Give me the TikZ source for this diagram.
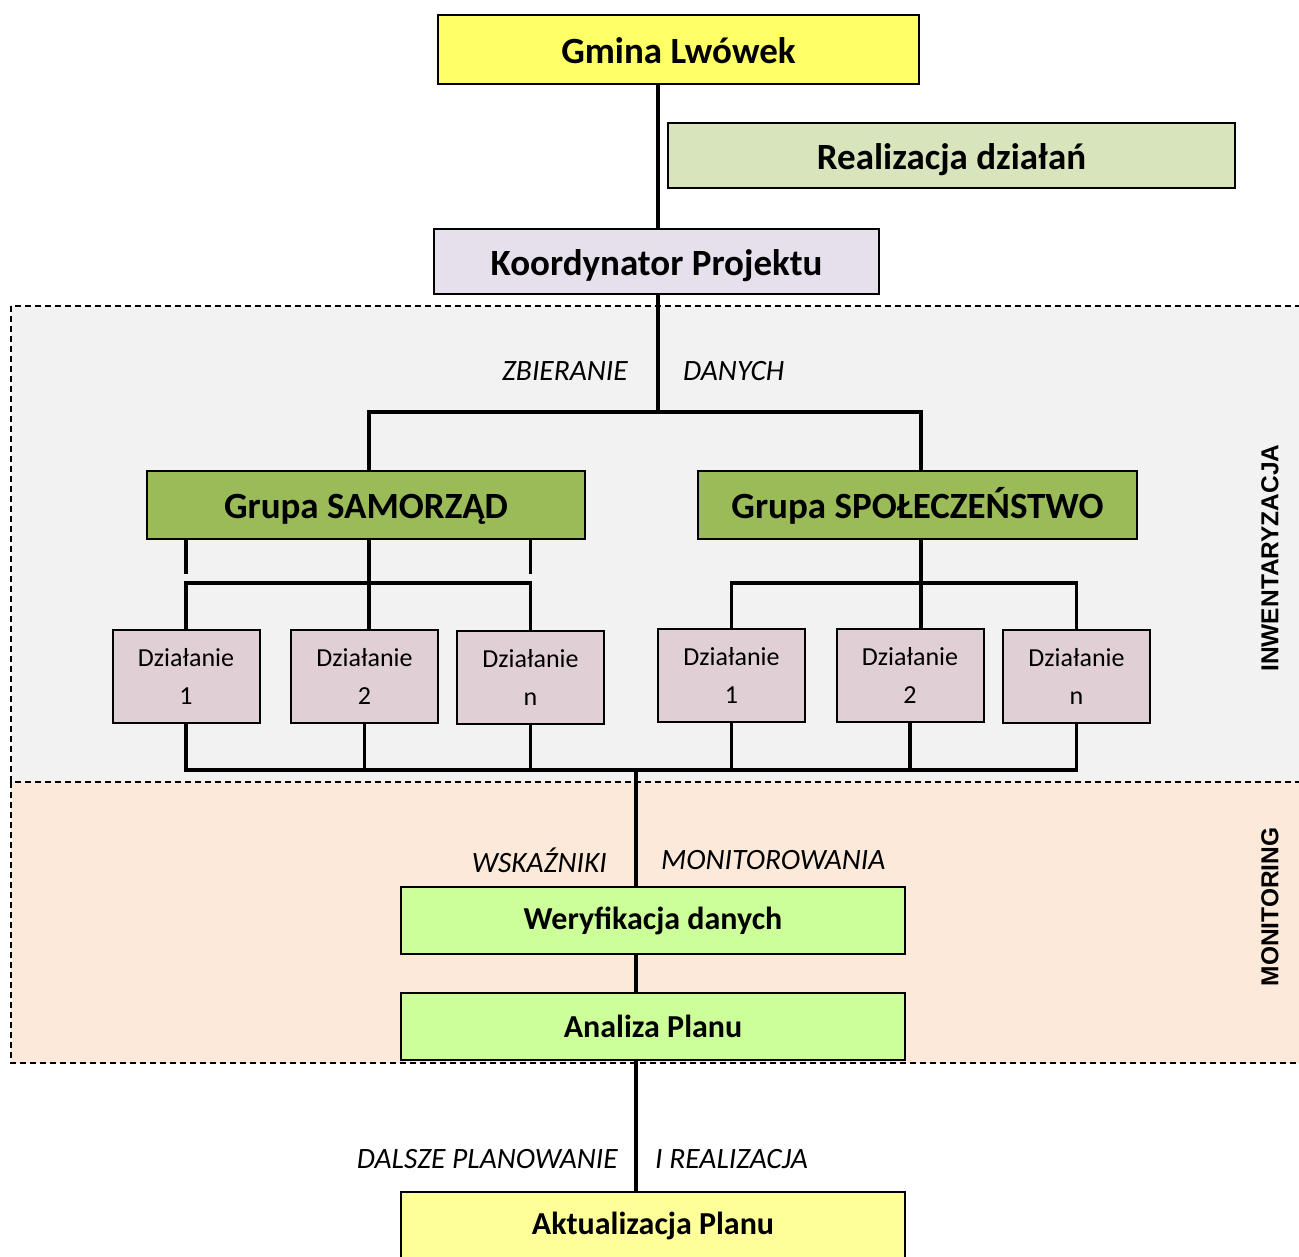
\documentclass[tikz,border=0pt]{standalone}
\usepackage{fontspec}
\setmainfont{Carlito}
\newfontfamily\sidefont{Liberation Sans}
\definecolor{gmyellow}{RGB}{255,255,102}
\definecolor{gmlightyellow}{RGB}{255,255,153}
\definecolor{gmsage}{RGB}{216,228,188}
\definecolor{gmlavender}{RGB}{229,224,236}
\definecolor{gmolive}{RGB}{155,187,89}
\definecolor{gmmauve}{RGB}{224,208,214}
\definecolor{gmlime}{RGB}{204,255,153}
\definecolor{gmgray}{RGB}{242,242,242}
\definecolor{gmpeach}{RGB}{253,233,217}
\usetikzlibrary{positioning,calc}
\tikzset{
  bigbox/.style={draw=black, line width=2pt, minimum height=67pt, align=center, text height=27.5pt, text depth=0pt, font=\fontsize{37}{44}\selectfont\bfseries},
  midbox/.style={draw=black, line width=2pt, minimum width=504pt, minimum height=67pt, align=center, font=\fontsize{32}{38}\selectfont\bfseries},
  actbox/.style={draw=black, line width=2pt, fill=gmmauve, minimum width=147pt, minimum height=93pt, align=center, font=\fontsize{26}{38}\selectfont},
  flowlbl/.style={font=\fontsize{29.5}{34}\selectfont\itshape, inner sep=0pt},
  sidelbl/.style={font=\fontsize{24.5}{30}\sidefont\bfseries, rotate=90, inner sep=0pt},
  conn/.style={line width=3.2pt},
  zone/.style={line width=1.2pt, dash pattern=on 6pt off 4pt}
}
\begin{document}
\begin{tikzpicture}[x=1pt,y=-1pt]
  \useasboundingbox (0,0) rectangle (1299,1257);

  %% phases in the background
  \draw[zone, fill=gmgray] (11,306) rectangle (1310,782);
  \draw[zone, fill=gmpeach] (11,782) rectangle (1310,1063);
  \node[sidelbl] (inwlbl) at (1270,558) {INWENTARYZACJA};
  \node[sidelbl] (monlbl) at (1270,907) {MONITORING};

  %% top of the chart
  \node[bigbox, fill=gmyellow, minimum width=481pt, minimum height=69pt] (gmina) at (678.5,49.5) {Gmina Lwówek};
  \node[bigbox, fill=gmsage, minimum width=567pt, minimum height=65pt] (realiz) at (951.5,155.5) {Realizacja działań};
  \node[bigbox, fill=gmlavender, minimum width=445pt, minimum height=65pt] (koord) at (656.5,261.5) {Koordynator Projektu};

  %% groups
  \node[bigbox, fill=gmolive, minimum width=438pt, minimum height=68pt] (samorzad) at (366,505) {Grupa SAMORZĄD};
  \node[bigbox, fill=gmolive, minimum width=439pt, minimum height=68pt] (spolecz) at (917.5,505) {Grupa SPOŁECZEŃSTWO};

  %% actions
  \node[actbox] (sam1) at (186,676.5) {Działanie\\1};
  \node[actbox] (sam2) at (364.5,676) {Działanie\\2};
  \node[actbox] (samn) at (530.5,677) {Działanie\\n};
  \node[actbox] (spo1) at (731.5,675.5) {Działanie\\1};
  \node[actbox] (spo2) at (910,675) {Działanie\\2};
  \node[actbox] (spon) at (1076.5,676) {Działanie\\n};

  %% monitoring and update
  \node[midbox, fill=gmlime] (weryf) at (653,920.5) {Weryfikacja danych};
  \node[midbox, fill=gmlime] (analiza) at (653,1026.5) {Analiza Planu};
  \node[midbox, fill=gmlightyellow, minimum height=68pt] (aktual) at (653,1226) {Aktualizacja Planu};

  %% connectors
  \coordinate (topbus) at (658,412);
  \coordinate (sambus) at (369,583);
  \coordinate (spobus) at (921,583);
  \coordinate (lowbus) at (636,770);
  \draw[conn] (gmina.south -| topbus) -- (koord.north -| topbus);
  \draw[conn] (koord.south -| topbus) -- (topbus);
  \draw[conn] (samorzad.north -| sambus) |- (topbus) -| (spolecz.north -| spobus);

  \draw[conn] (samorzad.south -| sam1.north) -- ++(0,34);
  \draw[conn] (samorzad.south -| samn.north) -- ++(0,34);
  \draw[conn] (samorzad.south -| sambus) -- (sam2.north -| sambus);
  \draw[conn] (sam1.north) |- (sambus) -| (samn.north);

  \draw[conn] (spolecz.south -| spobus) -- (spo2.north -| spobus);
  \draw[conn] (spo1.north) |- (spobus) -| (spon.north);

  \draw[conn] (sam1.south) |- (lowbus) -| (spon.south);
  \draw[conn] (sam2.south) -- (sam2.south |- lowbus);
  \draw[conn] (samn.south) -- (samn.south |- lowbus);
  \draw[conn] (spo1.south) -- (spo1.south |- lowbus);
  \draw[conn] (spo2.south) -- (spo2.south |- lowbus);

  \draw[conn] (lowbus) -- (lowbus |- weryf.north);
  \draw[conn] (lowbus |- weryf.south) -- (lowbus |- analiza.north);
  \draw[conn] (lowbus |- analiza.south) -- (lowbus |- aktual.north);

  %% connector labels
  \node[flowlbl, anchor=east] (zbier) at (628,371) {ZBIERANIE};
  \node[flowlbl, anchor=west] (danych) at (683,371) {DANYCH};
  \node[flowlbl, anchor=east] (wskaz) at (607,860) {WSKAŹNIKI};
  \node[flowlbl, anchor=west] (monit) at (661,860) {MONITOROWANIA};
  \node[flowlbl, anchor=east] (dalsze) at (618,1159) {DALSZE PLANOWANIE};
  \node[flowlbl, anchor=west] (ireal) at (655,1159) {I REALIZACJA};
\end{tikzpicture}
\end{document}
